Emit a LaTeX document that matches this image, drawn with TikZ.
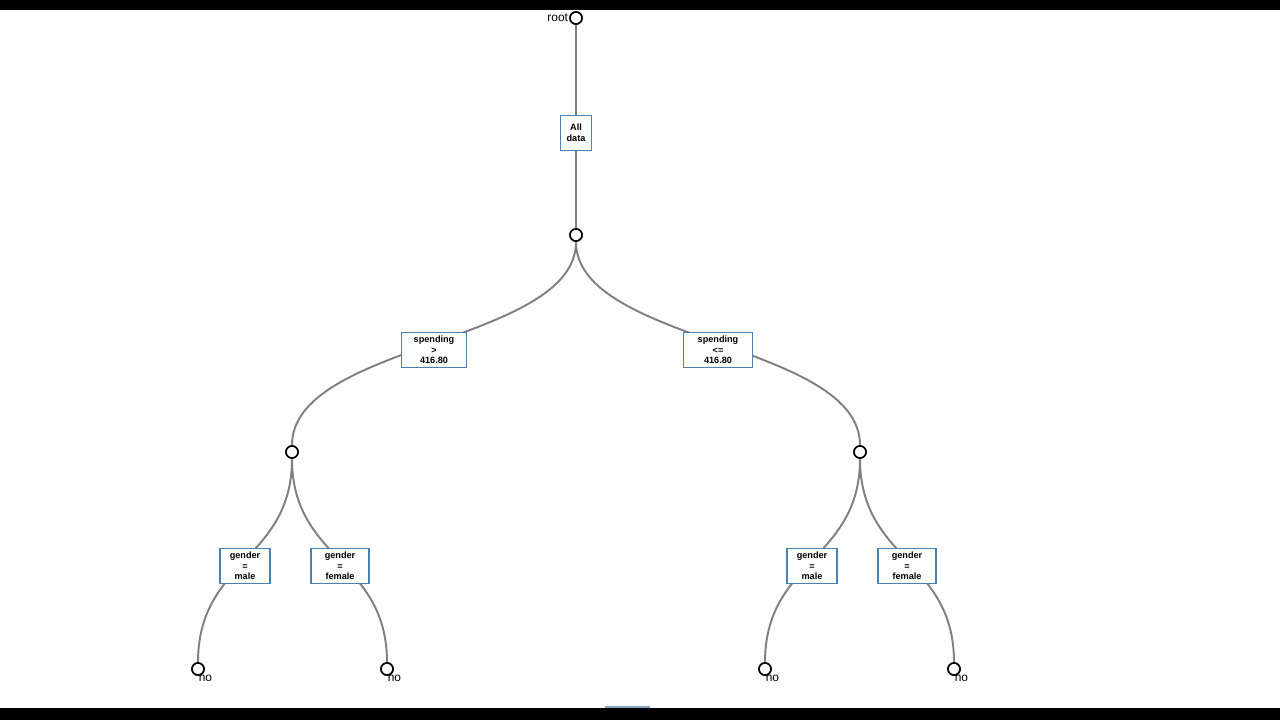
\documentclass[tikz,border=0pt]{standalone}
\usepackage{fontspec}
\setmainfont{Liberation Sans}
\usetikzlibrary{positioning}
\definecolor{linkgray}{RGB}{128,128,128}
\definecolor{boxblue}{RGB}{70,130,180}

\begin{document}
\begin{tikzpicture}[
    x=0.02cm, y=-0.02cm,
    dot/.style={circle, draw=black, line width=0.9pt, fill=white,
                minimum size=0.24cm, inner sep=0pt},
    split/.style={draw=boxblue, line width=0.8pt, fill=white, align=center,
                  font=\fontsize{5.2}{6}\selectfont\bfseries, inner sep=1.5pt,
                  minimum height=0.7cm},
    link/.style={draw=linkgray, line width=1.1pt},
    lbl/.style={font=\fontsize{6.8}{8}\selectfont, inner sep=0.5pt}
]

%======================
% Page and bars
%======================

\fill[white] (0,0) rectangle (1280,720);
\fill[black] (0,0) rectangle (1280,10);
\fill[black] (0,708) rectangle (1280,720);
\fill[boxblue!70] (605,706) rectangle (650,708);

%======================
% Tree nodes
%======================

\node[dot] (root) at (576,18)  {};
\node[dot] (n1)   at (576,235) {};
\node[dot] (n2)   at (292,452) {};
\node[dot] (n3)   at (860,452) {};
\node[dot] (l1)   at (198,669) {};
\node[dot] (l2)   at (387,669) {};
\node[dot] (l3)   at (765,669) {};
\node[dot] (l4)   at (954,669) {};

%======================
% Links
%======================

\draw[link] (root) -- (n1);
\draw[link] (n1) .. controls (576,343) and (292,343) .. (n2);
\draw[link] (n1) .. controls (576,343) and (860,343) .. (n3);
\draw[link] (n2) .. controls (292,560) and (198,560) .. (l1);
\draw[link] (n2) .. controls (292,560) and (387,560) .. (l2);
\draw[link] (n3) .. controls (860,560) and (765,560) .. (l3);
\draw[link] (n3) .. controls (860,560) and (954,560) .. (l4);

% redraw dots on top of links
\foreach \d in {root,n1,n2,n3,l1,l2,l3,l4}
  \node[dot] at (\d) {};

%======================
% Split boxes
%======================

\node[split, minimum width=0.62cm]  (alldata) at (576,133) {All\\data};
\node[split, minimum width=1.3cm]   (spgt)    at (434,350) {spending\\>\\416.80};
\node[split, minimum width=1.38cm]  (sple)    at (718,350) {spending\\<=\\416.80};
\node[split, minimum width=1.0cm]   (gml)     at (245,566) {gender\\=\\male};
\node[split, minimum width=1.16cm]  (gfl)     at (340,566) {gender\\=\\female};
\node[split, minimum width=1.0cm]   (gmr)     at (812,566) {gender\\=\\male};
\node[split, minimum width=1.16cm]  (gfr)     at (907,566) {gender\\=\\female};

%======================
% Labels
%======================

\node[lbl, left=0pt of root] {root};
\node[lbl, below right=0pt and -3pt of l1] {no};
\node[lbl, below right=0pt and -3pt of l2] {no};
\node[lbl, below right=0pt and -3pt of l3] {no};
\node[lbl, below right=0pt and -3pt of l4] {no};

\end{tikzpicture}
\end{document}
